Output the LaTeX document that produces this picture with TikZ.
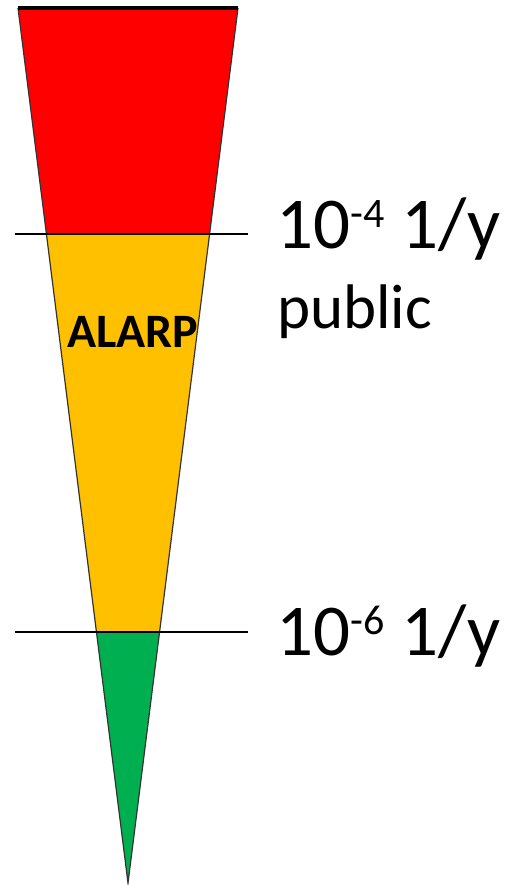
\documentclass[tikz,border=0pt]{standalone}
\usepackage{fontspec}
\setmainfont{Carlito}
\definecolor{zred}{HTML}{FF0000}
\definecolor{zamber}{HTML}{FFC000}
\definecolor{zgreen}{HTML}{00B050}
\newcommand{\supnum}[1]{\raisebox{21pt}{\fontsize{42}{42}\selectfont #1}}
\begin{document}
\begin{tikzpicture}[x=1pt,y=-1pt,
  edge/.style={draw=black!80, line width=1.2pt, line join=miter},
  level/.style={draw=black, line width=2.6pt},
  toprule/.style={draw=black, line width=3.2pt},
  lab/.style={anchor=base west, inner sep=0pt, font=\fontsize{73}{73}\selectfont},
  sublab/.style={anchor=base west, inner sep=0pt, font=\fontsize{63}{63}\selectfont},
  zone/.style={anchor=base west, inner sep=0pt, font=\fontsize{48}{48}\selectfont\bfseries}]
\useasboundingbox (0,0) rectangle (510,885);
\coordinate (tl) at (18,8);
\coordinate (tr) at (238,8);
\coordinate (ml) at (46.4,234);
\coordinate (mr) at (209.6,234);
\coordinate (ll) at (96.4,632);
\coordinate (lr) at (159.6,632);
\coordinate (apex) at (128,883);
\coordinate (a1) at (15,234);
\coordinate (b1) at (248,234);
\coordinate (a2) at (15,632);
\coordinate (b2) at (248,632);
\fill[zred] (tl)--(tr)--(mr)--(ml)--cycle;
\fill[zamber] (ml)--(mr)--(lr)--(ll)--cycle;
\fill[zgreen] (ll)--(lr)--(apex)--cycle;
\draw[edge] (tl)--(apex)--(tr);
\draw[toprule] (tl)--(tr);
\draw[level] (a1)--(b1);
\draw[level] (a2)--(b2);
\node[zone] (alarp) at (67,347) {ALARP};
\node[lab] (t4) at (276,248) {10\supnum{-4}\hspace{1pt} 1/y};
\node[sublab] (pub) at (277,328) {public};
\node[lab] (t6) at (276,655) {10\supnum{-6}\hspace{1pt} 1/y};
\end{tikzpicture}
\end{document}
